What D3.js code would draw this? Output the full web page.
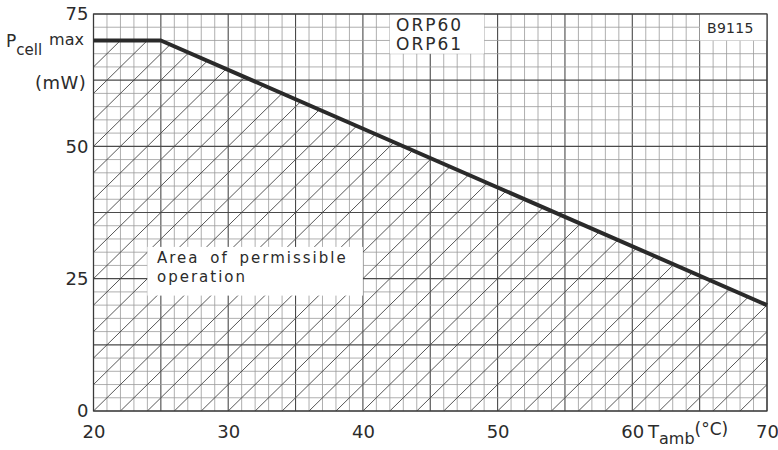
<!DOCTYPE html>
<html><head><meta charset="utf-8">
<script src="https://cdn.jsdelivr.net/npm/d3@7/dist/d3.min.js"></script>
<style>
body{margin:0;background:#fff}
text{font-family:"DejaVu Sans",sans-serif;fill:#2b2b2b}
</style>
</head><body>
<svg id="chart" width="778" height="450"></svg>
<script>
// ---- data ----
const tempC = [20, 25, 70];          // T_amb (°C)
const pMax  = [70, 70, 20];          // P_cell max (mW)
const xTicks = [20, 30, 40, 50, 60, 70];
const yTicks = [0, 25, 50, 75];
const xDomain = [20, 70];
const yDomain = [0, 75];
const labelBox = {x: [24, 40], y: [21.8, 31]};
const typeBox  = {x: [42, 49], y: [67.5, 75]};
const codeBox  = {x: [65, 70], y: [70, 75]};

const svg = d3.select("#chart");
const L = 93.5, R = 767, T = 14, B = 411;
const x = d3.scaleLinear().domain(xDomain).range([L, R]);
const y = d3.scaleLinear().domain(yDomain).range([B, T]);

// ---- grid ----
const g = svg.append("g");
const xs = d3.range(xDomain[0], xDomain[1] + 0.001, 1);
const ys = d3.range(yDomain[0], yDomain[1] + 0.001, 2.5);
g.selectAll("line.vx").data(xs).join("line")
  .attr("x1", d => x(d)).attr("x2", d => x(d)).attr("y1", y(0)).attr("y2", y(75))
  .attr("stroke", d => d % 5 === 0 ? "#4a4a4a" : "#9a9a9a")
  .attr("stroke-width", d => d % 5 === 0 ? 1.1 : 0.8);
g.selectAll("line.hy").data(ys).join("line")
  .attr("y1", d => y(d)).attr("y2", d => y(d)).attr("x1", x(20)).attr("x2", x(70))
  .attr("stroke", d => Math.abs(d % 12.5) < 1e-6 ? "#4a4a4a" : "#9a9a9a")
  .attr("stroke-width", d => Math.abs(d % 12.5) < 1e-6 ? 1.1 : 0.8);

// ---- hatch clipped to area under curve ----
const pts = tempC.map((t, i) => [t, pMax[i]]);
const area = d3.area().x(d => x(d[0])).y0(y(0)).y1(d => y(d[1]));
svg.append("clipPath").attr("id", "under").append("path").attr("d", area(pts));
const starts = d3.range(-10, 71, 2);
svg.append("g").attr("clip-path", "url(#under)")
  .selectAll("line").data(starts).join("line")
  .attr("x1", d => x(d)).attr("y1", y(0))
  .attr("x2", d => x(d + 75 / 2.5)).attr("y2", y(75))
  .attr("stroke", "#444").attr("stroke-width", 0.9);

// ---- white boxes ----
[labelBox, typeBox, codeBox].forEach(b => {
  svg.append("rect")
    .attr("x", x(b.x[0])).attr("y", y(b.y[1]))
    .attr("width", x(b.x[1]) - x(b.x[0])).attr("height", y(b.y[0]) - y(b.y[1]))
    .attr("fill", "#fff");
});

// ---- frame ----
svg.append("rect").attr("x", L).attr("y", T).attr("width", R - L).attr("height", B - T)
  .attr("fill", "none").attr("stroke", "#3a3a3a").attr("stroke-width", 1.2);

// ---- curve ----
svg.append("path").datum(pts)
  .attr("d", d3.line().x(d => x(d[0])).y(d => y(d[1])))
  .attr("fill", "none").attr("stroke", "#2a2a2a").attr("stroke-width", 4)
  .attr("stroke-linejoin", "round");

// ---- axes ----
const ax = svg.append("g").attr("transform", `translate(0,${B})`)
  .call(d3.axisBottom(x).tickValues(xTicks).tickSize(0).tickPadding(14).tickFormat(d3.format("d")));
const ay = svg.append("g").attr("transform", `translate(${L},0)`)
  .call(d3.axisLeft(y).tickValues(yTicks).tickSize(0).tickPadding(5).tickFormat(d3.format("d")));
[ax, ay].forEach(a => {
  a.select(".domain").remove();
  a.selectAll("text").attr("font-size", 18).attr("font-family", "DejaVu Sans, sans-serif").attr("fill", "#333");
});

// ---- labels ----
const yl = svg.append("text").attr("x", 6).attr("y", 47);
yl.append("tspan").attr("font-size", 17).text("P");
yl.append("tspan").attr("font-size", 15).attr("dy", 8).text("cell");
yl.append("tspan").attr("font-size", 16).attr("dy", -10).attr("dx", 7).text("max");
svg.append("text").attr("x", 35).attr("y", 89).attr("font-size", 18).attr("letter-spacing", 0.5).text("(mW)");

const xl = svg.append("text").attr("x", 648).attr("y", 438);
xl.append("tspan").attr("font-size", 18).text("T");
xl.append("tspan").attr("font-size", 16).attr("dy", 6).text("amb");
xl.append("tspan").attr("font-size", 17).attr("dy", -9).text("(°C)");

svg.append("text").attr("x", 396).attr("y", 31).attr("font-size", 17).attr("letter-spacing", 2).text("ORP60");
svg.append("text").attr("x", 396).attr("y", 50).attr("font-size", 17).attr("letter-spacing", 2).text("ORP61");
svg.append("text").attr("x", 707).attr("y", 33).attr("font-size", 14).attr("letter-spacing", 0.3).text("B9115");

svg.append("text").attr("x", 157).attr("y", 263).attr("font-size", 15)
  .attr("letter-spacing", 2).attr("word-spacing", 4).text("Area of permissible");
svg.append("text").attr("x", 157).attr("y", 282).attr("font-size", 15)
  .attr("letter-spacing", 2).text("operation");
</script>
</body></html>
